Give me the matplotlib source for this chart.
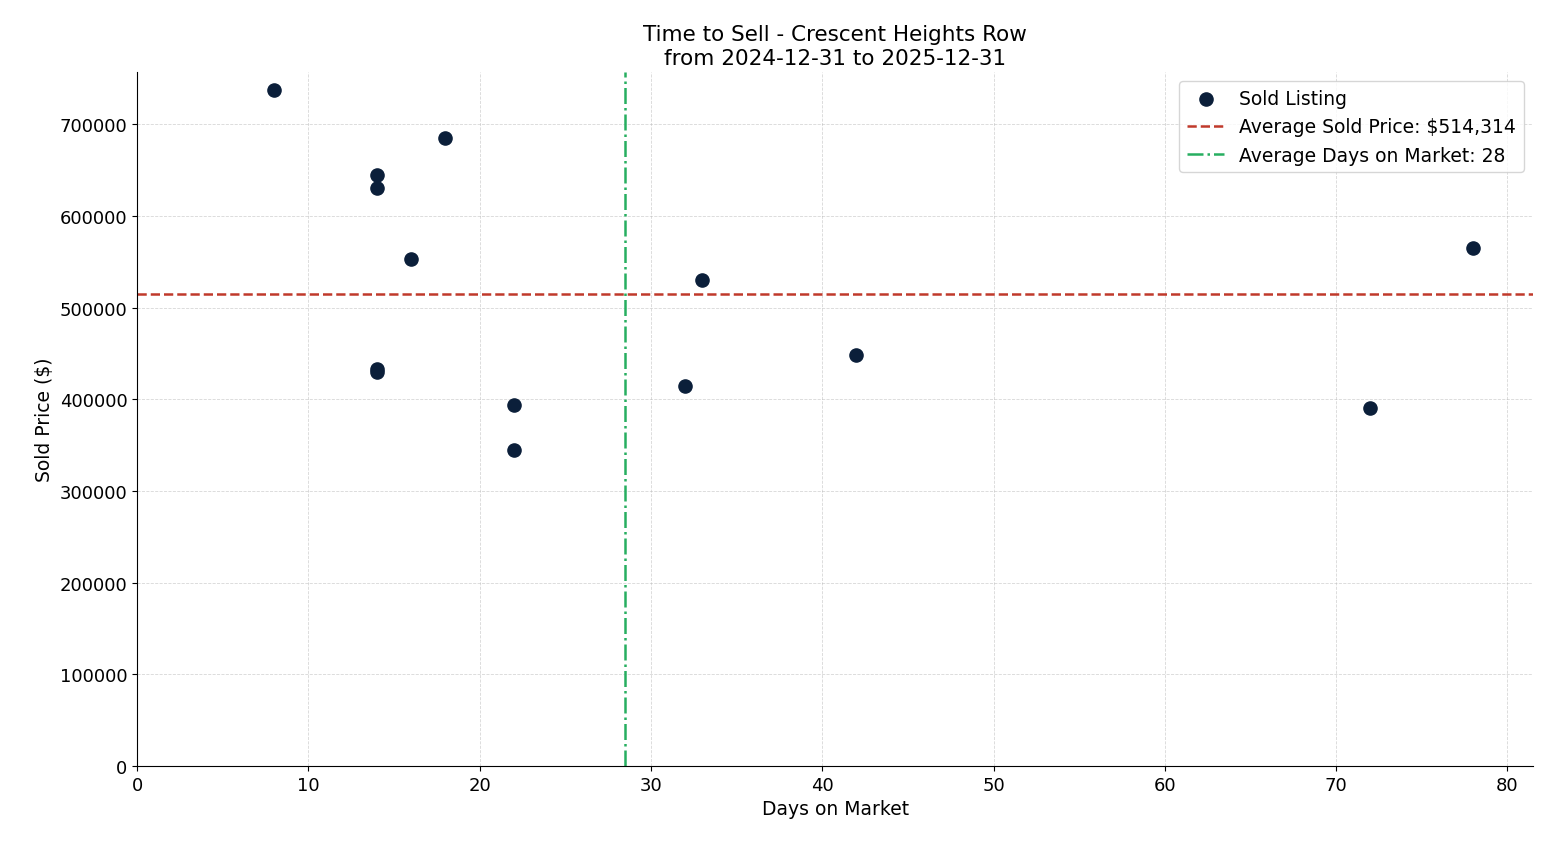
import numpy as np
import matplotlib.pyplot as plt

days = [8, 14, 14, 18, 16, 14, 14, 22, 22, 32, 33, 42, 72, 78]
prices = [737400, 645000, 630000, 685000, 553000, 433000, 430000,
          394000, 345000, 415000, 530000, 448000, 390000, 565000]

avg_price = np.mean(prices)
avg_days = np.mean(days)

fig, ax = plt.subplots(figsize=(15.47, 8.45), dpi=100)
ax.scatter(days, prices, s=90, color='#0b1f3a', zorder=3, label='Sold Listing')
ax.axhline(avg_price, color='#c0392b', linestyle='--', linewidth=1.8,
           label=f'Average Sold Price: ${avg_price:,.0f}')
ax.axvline(avg_days, color='#27ae60', linestyle='-.', linewidth=1.8,
           label=f'Average Days on Market: {avg_days:.0f}')

ax.set_xlim(0, 81.5)
ax.set_ylim(0, 757000)
ax.set_title('Time to Sell - Crescent Heights Row\nfrom 2024-12-31 to 2025-12-31', fontsize=15.5)
ax.set_xlabel('Days on Market', fontsize=13.5)
ax.set_ylabel('Sold Price ($)', fontsize=13.5)
ax.tick_params(labelsize=13)
ax.ticklabel_format(axis='y', style='plain')
ax.grid(True, linestyle='--', linewidth=0.6, alpha=0.5)
ax.spines['top'].set_visible(False)
ax.spines['right'].set_visible(False)
ax.legend(fontsize=13.5, loc='upper right')

plt.subplots_adjust(left=0.0886, right=0.991, top=0.9136, bottom=0.0923)
plt.savefig('out.png')
